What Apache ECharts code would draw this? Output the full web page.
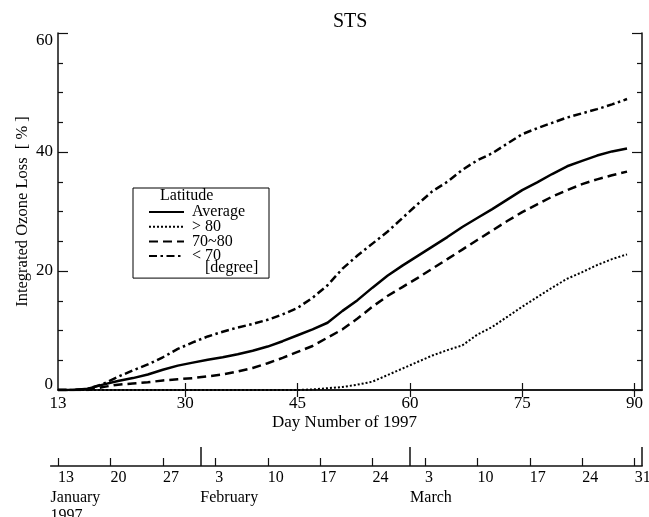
<!DOCTYPE html>
<html>
<head>
<meta charset="utf-8">
<script src="https://cdn.jsdelivr.net/npm/echarts@6/dist/echarts.min.js"></script>
<style>html,body{margin:0;padding:0;background:#fff}#c{width:649px;height:517px}</style>
</head>
<body>
<div id="c"></div>
<script>
// ---- data ----
const days = [13,15,17,19,21,23,25,27,29,31,33,35,37,39,41,43,45,47,49,51,53,55,57,59,61,63,65,67,69,71,73,75,77,79,81,83,85,87,89];
const avgLoss =   [0,0,0.2,0.9,1.5,2.0,2.6,3.4,4.1,4.6,5.1,5.5,6.0,6.6,7.3,8.2,9.2,10.2,11.3,13.3,15.1,17.2,19.2,20.9,22.5,24.1,25.7,27.4,28.9,30.4,32.0,33.6,34.9,36.3,37.6,38.5,39.4,40.1,40.6];
const gt80Loss =  [0,0,0,0,0,0,0,0,0,0,0,0,0,0,0,0,0,0.1,0.3,0.5,0.9,1.4,2.5,3.6,4.7,5.8,6.7,7.5,9.3,10.6,12.3,14.0,15.6,17.2,18.7,19.8,21.0,22.0,22.8];
const mid7080Loss=[0,0,0,0.5,0.9,1.1,1.3,1.6,1.8,2.0,2.3,2.6,3.1,3.7,4.5,5.4,6.4,7.4,8.8,10.2,12.0,14.0,15.8,17.3,18.8,20.4,22.0,23.6,25.2,26.8,28.4,29.9,31.2,32.5,33.6,34.6,35.4,36.1,36.7];
const lt70Loss =  [0,0,0.2,1.0,2.2,3.3,4.3,5.5,6.9,8.0,9.0,9.8,10.5,11.1,11.8,12.7,13.8,15.5,17.6,20.4,22.6,24.6,26.6,28.9,31.2,33.4,35.0,37.0,38.6,39.8,41.4,43.0,44.0,44.9,45.8,46.5,47.2,48.0,48.9];
const seriesNames = ['Average', '> 80', '70~80', '< 70'];
const dayTicks = [13,30,45,60,75,90];
// calendar axis
const calDays =   [13,20,27,34,41,48,55,62,69,76,83,90];
const calLabels = ['13','20','27','3','10','17','24','3','10','17','24','31'];
const monthBounds = [32,60,91];
const monthStarts = [12,32,60];
const monthLabels = ['January\n1997','February','March'];

const FONT = 'Liberation Serif';
const pair = arr => days.map((d,i)=>[d, arr[i]]);
const frame = {show:true, lineStyle:{color:'#111', width:1.5}};

const chart = echarts.init(document.getElementById('c'), null, {renderer:'canvas'});
const calMap = {}; calDays.forEach((d,i)=>calMap[d]=calLabels[i]);
const monMap = {}; monthStarts.forEach((d,i)=>monMap[d]=monthLabels[i]);

chart.setOption({
  animation:false,
  backgroundColor:'#fff',
  textStyle:{fontFamily:FONT, color:'#000'},
  title:{text:'STS', left:328, top:7, textStyle:{fontFamily:FONT, fontSize:20, fontWeight:'normal', color:'#000'}},
  grid:[
    {left:58, top:33, width:584, height:357, outerBoundsMode:'none'},
    {left:50.6, top:446, width:591.6, height:20, outerBoundsMode:'none'}
  ],
  xAxis:[
    {gridIndex:0, type:'value', min:13, max:91, position:'bottom',
     axisLine:frame, splitLine:{show:false},
     axisTick:{show:true, inside:true, length:7, customValues:dayTicks.slice(1), lineStyle:{color:'#111', width:1.2}},
     axisLabel:{customValues:dayTicks, fontFamily:FONT, fontSize:17, color:'#000', margin:5},
     name:'Day Number of 1997', nameLocation:'middle', nameGap:24, nameMoveOverlap:false,
     nameTextStyle:{fontFamily:FONT, fontSize:17, color:'#000', padding:[0,11,0,0]}},
    {gridIndex:0, type:'value', min:13, max:91, position:'top',
     axisLine:frame, splitLine:{show:false},
     axisTick:{show:true, inside:true, length:7, customValues:dayTicks.slice(1), lineStyle:{color:'#111', width:1.2}},
     axisLabel:{show:false}},
    {gridIndex:1, type:'value', min:12, max:91, position:'bottom',
     axisLine:frame, splitLine:{show:false},
     axisTick:{show:true, inside:true, length:8, customValues:calDays, lineStyle:{color:'#111', width:1.2}},
     axisLabel:{customValues:calDays, formatter:v=>calMap[v]||'', align:'left', fontFamily:FONT, fontSize:16, color:'#000', margin:4}},
    {gridIndex:1, type:'value', min:12, max:91, position:'bottom',
     axisLine:{show:false}, splitLine:{show:false},
     axisTick:{show:true, inside:true, length:19, customValues:monthBounds, lineStyle:{color:'#111', width:1.5}},
     axisLabel:{customValues:monthStarts, formatter:v=>monMap[v]||'', align:'left', verticalAlign:'top', lineHeight:18, fontFamily:FONT, fontSize:16, color:'#000', margin:23}}
  ],
  yAxis:[
    {gridIndex:0, type:'value', min:0, max:60, interval:20, position:'left',
     axisLine:frame, splitLine:{show:false},
     axisTick:{show:true, inside:true, length:10, lineStyle:{color:'#111', width:1.2}},
     minorTick:{show:true, splitNumber:4, length:5, lineStyle:{color:'#111', width:1.2}},
     axisLabel:{fontFamily:FONT, fontSize:17, color:'#000', margin:5,
       formatter:v=> v===60 ? '{mx|60}' : (v===0 ? '{mn|0}' : String(v)),
       rich:{mx:{fontFamily:FONT, fontSize:17, color:'#000', padding:[16,0,0,0]},
             mn:{fontFamily:FONT, fontSize:17, color:'#000', padding:[0,0,10,0]}}},
     name:'Integrated Ozone Loss  [ % ]', nameLocation:'middle', nameGap:27, nameMoveOverlap:false,
     nameTextStyle:{fontFamily:FONT, fontSize:16.5, color:'#000'}},
    {gridIndex:0, type:'value', min:0, max:60, interval:20, position:'right',
     axisLine:frame, splitLine:{show:false},
     axisTick:{show:true, inside:true, length:10, lineStyle:{color:'#111', width:1.2}},
     minorTick:{show:true, splitNumber:4, length:5, lineStyle:{color:'#111', width:1.2}},
     axisLabel:{show:false}},
    {gridIndex:1, type:'value', show:false, min:0, max:1}
  ],
  legend:{
    orient:'vertical', left:133, top:188, itemWidth:35, itemHeight:12, itemGap:-1.3,
    padding:[16,24,14,15], borderColor:'#000', borderWidth:1, backgroundColor:'#fff',
    itemStyle:{opacity:0, color:'rgba(0,0,0,0)', borderWidth:0},
    lineStyle:{color:'#000'},
    textStyle:{fontFamily:FONT, fontSize:16, color:'#000', lineHeight:14, padding:[0,0,0,3]},
    data:seriesNames, selectedMode:false
  },
  graphic:[
    {type:'text', left:160, top:188, z:100, style:{text:'Latitude', font:'16px "Liberation Serif"', fill:'#000'}},
    {type:'text', left:205, top:260, z:100, style:{text:'[degree]', font:'16px "Liberation Serif"', fill:'#000'}}
  ],
  series:[
    {name:seriesNames[0], type:'line', xAxisIndex:0, yAxisIndex:0, data:pair(avgLoss), symbol:'none', showSymbol:false,
     lineStyle:{color:'#000', width:2.5, type:'solid'}, itemStyle:{color:'#000'}},
    {name:seriesNames[1], type:'line', xAxisIndex:0, yAxisIndex:0, data:pair(gt80Loss), symbol:'none', showSymbol:false,
     lineStyle:{color:'#000', width:2, type:[2,2]}, itemStyle:{color:'#000'}},
    {name:seriesNames[2], type:'line', xAxisIndex:0, yAxisIndex:0, data:pair(mid7080Loss), symbol:'none', showSymbol:false,
     lineStyle:{color:'#000', width:2.5, type:[9,5]}, itemStyle:{color:'#000'}},
    {name:seriesNames[3], type:'line', xAxisIndex:0, yAxisIndex:0, data:pair(lt70Loss), symbol:'none', showSymbol:false,
     lineStyle:{color:'#000', width:2.5, type:[8,3.5,2.5,3.5]}, itemStyle:{color:'#000'}}
  ]
});
</script>
</body>
</html>
